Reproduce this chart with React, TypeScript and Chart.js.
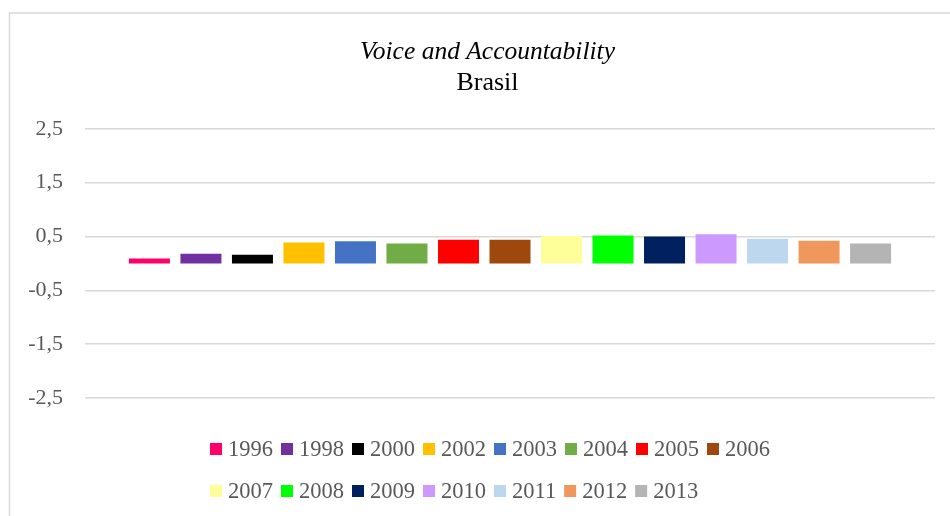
import React, { useEffect, useRef } from "react";
import { Chart, registerables } from "chart.js";

Chart.register(...registerables);

const years = ["1996", "1998", "2000", "2002", "2003", "2004", "2005", "2006", "2007", "2008", "2009", "2010", "2011", "2012", "2013"];
const values = [0.09, 0.18, 0.16, 0.39, 0.41, 0.37, 0.44, 0.44, 0.51, 0.52, 0.5, 0.54, 0.46, 0.42, 0.37];
const colors = ["#FF0066", "#7030A0", "#000000", "#FFC000", "#4472C4", "#70AD47", "#FF0000", "#9E480E", "#FFFF99", "#00FF00", "#002060", "#CC99FF", "#BDD7EE", "#F0975B", "#B4B4B4"];
const categories = ["Brasil"];
const titleText = "Voice and Accountability";
const subtitleText = "Brasil";

const FONT = '"Liberation Serif", "Times New Roman", serif';

const framePlugin = {
  id: "frame",
  beforeDraw(chart: any) {
    const ctx = chart.ctx;
    ctx.save();
    ctx.fillStyle = "#ffffff";
    ctx.fillRect(0, 0, chart.width, chart.height);
    ctx.strokeStyle = "#d9d9d9";
    ctx.lineWidth = 1.5;
    ctx.beginPath();
    ctx.moveTo(9.5, chart.height);
    ctx.lineTo(9.5, 13);
    ctx.lineTo(chart.width, 13);
    ctx.stroke();
    ctx.restore();
  },
};

const legendPlugin = {
  id: "customLegend",
  afterDraw(chart: any) {
    const ctx = chart.ctx;
    ctx.save();
    ctx.font = `22.5px ${FONT}`;
    ctx.textBaseline = "middle";
    ctx.textAlign = "left";
    const box = 12;
    const gapText = 6;
    const gapItem = 8;
    const maxW = 600;
    const items = chart.data.datasets.map((d: any) => {
      const tw = ctx.measureText(d.label).width;
      return { label: d.label, color: d.backgroundColor, w: box + gapText + tw + gapItem };
    });
    const rows: any[][] = [[]];
    let cur = 0;
    items.forEach((it: any) => {
      if (cur + it.w > maxW && rows[rows.length - 1].length) {
        rows.push([]);
        cur = 0;
      }
      rows[rows.length - 1].push(it);
      cur += it.w;
    });
    const row0W = rows[0].reduce((s: number, it: any) => s + it.w, 0) - gapItem;
    const startX = 490 - row0W / 2;
    const rowYs = [449, 491];
    rows.forEach((row, ri) => {
      let x = startX;
      const y = rowYs[ri] ?? 491 + (ri - 1) * 42;
      row.forEach((it: any) => {
        ctx.fillStyle = it.color;
        ctx.fillRect(x, y - box / 2, box, box);
        ctx.fillStyle = "#595959";
        ctx.fillText(it.label, x + box + gapText, y + 1);
        x += it.w;
      });
    });
    ctx.restore();
  },
};

export default function App() {
  const ref = useRef<HTMLCanvasElement | null>(null);
  useEffect(() => {
    if (!ref.current) return;
    const chart = new Chart(ref.current, {
      type: "bar",
      data: {
        labels: categories,
        datasets: years.map((y, i) => ({
          label: y,
          data: [values[i]],
          backgroundColor: colors[i],
          borderWidth: 0,
          categoryPercentage: 0.909,
          barPercentage: 0.796,
        })),
      },
      options: {
        responsive: false,
        animation: false,
        layout: { padding: { left: 40, right: 15, top: 0, bottom: 118 } },
        plugins: {
          legend: { display: false },
          tooltip: { enabled: false },
          title: {
            display: true,
            text: titleText,
            color: "#000000",
            font: { family: FONT, size: 25.5, style: "italic", weight: "normal" },
            padding: { top: 37, bottom: 0 },
          },
          subtitle: {
            display: true,
            text: subtitleText,
            color: "#000000",
            font: { family: FONT, size: 26, weight: "normal" },
            padding: { top: 0, bottom: 30 },
          },
        },
        scales: {
          x: {
            display: false,
          },
          y: {
            min: -2.5,
            max: 2.5,
            border: { display: false },
            grid: { color: "#d9d9d9", lineWidth: 1.5, drawTicks: false },
            ticks: {
              stepSize: 1,
              mirror: true,
              crossAlign: "far",
              padding: -56.8,
              color: "#595959",
              font: { family: FONT, size: 22 },
              callback: (v: any) => Number(v).toFixed(1).replace(".", ","),
            },
            afterFit: (s: any) => {
              s.width = 45;
            },
          },
        },
      } as any,
      plugins: [framePlugin, legendPlugin],
    });
    return () => chart.destroy();
  }, []);
  return (
    <canvas
      ref={ref}
      width={950}
      height={516}
      style={{ position: "absolute", left: 0, top: 0, width: 950, height: 516 }}
    />
  );
}
